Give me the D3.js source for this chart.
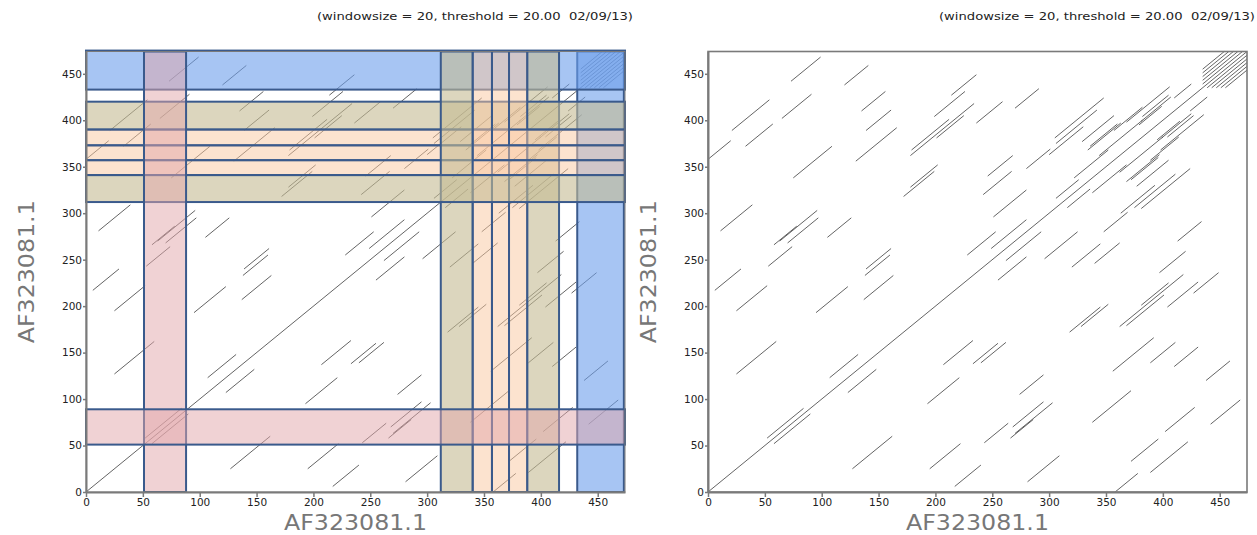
<!DOCTYPE html>
<html>
<head>
<meta charset="utf-8">
<script src="https://cdn.jsdelivr.net/npm/d3@7"></script>
<style>
body { margin: 0; background: #fff; }
text { font-family: "DejaVu Sans", sans-serif; }
</style>
</head>
<body>
<svg id="chart" width="1257" height="535"></svg>
<script>
var seqName = 'AF323081.1';
var seqLength = 474;
var headerText = '(windowsize = 20, threshold = 20.00  02/09/13)';
var tickValues = [0, 50, 100, 150, 200, 250, 300, 350, 400, 450];

// dotplot hits: [start on x, start on y, length]
var hits = [
    [0, 0, 474],
    [0, 358, 20], [358, 0, 20],
    [6, 217, 23], [217, 6, 23],
    [25, 195, 27], [195, 25, 27],
    [25, 127, 35], [127, 25, 35],
    [95, 193, 28], [193, 95, 28],
    [137, 207, 26], [207, 137, 26],
    [107, 123, 25], [123, 107, 25],
    [52, 58, 32], [58, 52, 32],
    [139, 240, 22], [240, 139, 22],
    [138, 233, 22], [233, 138, 22],
    [11, 281, 28], [281, 11, 28],
    [58, 266, 20], [266, 58, 20],
    [63, 270, 33], [270, 63, 33],
    [70, 268, 27], [268, 70, 27],
    [105, 274, 21], [274, 105, 21],
    [53, 243, 21], [243, 53, 21],
    [75, 338, 34], [338, 75, 34],
    [21, 389, 33], [389, 21, 33],
    [33, 372, 24], [372, 33, 24],
    [65, 402, 26], [402, 65, 26],
    [73, 442, 26], [442, 73, 26],
    [120, 438, 21], [438, 120, 21],
    [135, 410, 21], [410, 135, 21],
    [139, 389, 22], [389, 139, 22],
    [130, 356, 36], [356, 130, 36],
    [214, 427, 22], [427, 214, 22],
    [199, 404, 27], [404, 199, 27],
    [178, 362, 56], [362, 178, 56],
    [179, 368, 33], [368, 179, 33],
    [201, 381, 24], [381, 201, 24],
    [236, 397, 23], [397, 236, 23],
    [270, 413, 21], [413, 270, 21],
    [246, 340, 22], [340, 246, 22],
    [242, 320, 25], [320, 242, 25],
    [280, 348, 21], [348, 280, 21],
    [178, 328, 24], [328, 178, 24],
    [172, 318, 27], [318, 172, 27],
    [251, 296, 29], [296, 251, 29],
    [228, 255, 25], [255, 228, 25],
    [249, 262, 31], [262, 249, 31],
    [305, 381, 43], [381, 305, 43],
    [306, 375, 36], [375, 306, 36],
    [300, 363, 30], [363, 300, 30],
    [329, 377, 28], [377, 329, 28],
    [334, 368, 29], [368, 334, 29],
    [336, 372, 24], [372, 336, 24],
    [344, 362, 38], [362, 344, 38],
    [322, 338, 30], [338, 322, 30],
    [357, 389, 25], [389, 357, 25],
    [368, 398, 38], [398, 368, 38],
    [379, 395, 20], [395, 379, 20],
    [382, 404, 23], [404, 382, 23],
    [381, 399, 26], [399, 381, 26],
    [410, 424, 15], [424, 410, 15],
    [306, 316, 20], [316, 306, 20],
    [435, 439, 35], [439, 435, 35],
    [435, 443, 31], [443, 435, 31],
    [435, 447, 27], [447, 435, 27],
    [435, 451, 23], [451, 435, 23],
    [435, 455, 19], [455, 435, 19]
];

// repeat regions marked on the left plot
var regionFamily = ['F', 'E', 'D', 'C', 'B', 'A', 'G'];
var rowFrom = [433, 390, 373, 357, 341, 312, 51];
var rowTo   = [475, 420, 390, 373, 357, 341, 89];
var colFrom = [432, 388, 372, 357, 340, 312, 51];
var colTo   = [473, 416, 388, 372, 357, 340, 88];

var familyColor = { F: '#6d9eeb', E: '#c4ba92', A: '#c4ba92', D: '#fac8a0', C: '#fac8a0', B: '#fac8a0', G: '#e1a5aa' };
var familyOpacity = { F: 0.6, E: 0.6, A: 0.6, D: 0.5, C: 0.5, B: 0.5, G: 0.5 };

var svg = d3.select('#chart');

function drawPanel(left, withRegions) {
    var xs = d3.scaleLinear().domain([0, seqLength]).range([left, left + 539]);
    var ys = d3.scaleLinear().domain([0, seqLength]).range([492, 51.5]);
    var g = svg.append('g');

    g.append('text')
        .attr('x', left + 547)
        .attr('y', 20)
        .attr('text-anchor', 'end')
        .attr('font-size', 10.5)
        .attr('fill', '#222')
        .attr('textLength', 316)
        .attr('lengthAdjust', 'spacingAndGlyphs')
        .style('white-space', 'pre')
        .text(headerText);

    g.append('g').selectAll('line').data(hits)
        .enter()
        .append('line')
        .attr('x1', function (d) { return xs(d[0]); })
        .attr('y1', function (d) { return ys(d[1]); })
        .attr('x2', function (d) { return xs(Math.min(d[0] + d[2], seqLength)); })
        .attr('y2', function (d) { return ys(Math.min(d[1] + d[2], seqLength)); })
        .attr('stroke', '#222')
        .attr('stroke-opacity', 0.7)
        .attr('stroke-width', 1);

    if (withRegions) {
        var idx = d3.range(regionFamily.length);
        // blue family first, the others lie over it
        var order = idx.filter(function (i) { return regionFamily[i] == 'F'; })
            .concat(idx.filter(function (i) { return regionFamily[i] != 'F'; }));
        var rg = g.append('g');
        order.forEach(function (i) {
            var f = regionFamily[i];
            rg.append('rect')
                .attr('x', xs(colFrom[i]))
                .attr('y', ys(seqLength))
                .attr('width', xs(colTo[i]) - xs(colFrom[i]))
                .attr('height', ys(0) - ys(seqLength))
                .attr('fill', familyColor[f])
                .attr('fill-opacity', familyOpacity[f])
                .attr('stroke', '#3a5a8c')
                .attr('stroke-width', 2);
            rg.append('rect')
                .attr('x', xs(0))
                .attr('y', ys(rowTo[i]))
                .attr('width', xs(seqLength) - xs(0))
                .attr('height', ys(rowFrom[i]) - ys(rowTo[i]))
                .attr('fill', familyColor[f])
                .attr('fill-opacity', familyOpacity[f])
                .attr('stroke', '#3a5a8c')
                .attr('stroke-width', 2);
        });
    }

    // frame
    g.append('rect')
        .attr('x', xs(0))
        .attr('y', ys(seqLength))
        .attr('width', xs(seqLength) - xs(0))
        .attr('height', ys(0) - ys(seqLength))
        .attr('fill', 'none')
        .attr('stroke', '#7a7a7a')
        .attr('stroke-width', withRegions ? 1 : 1.6);

    var xAxis = g.append('g')
        .attr('transform', 'translate(0,' + ys(0) + ')')
        .call(d3.axisBottom(xs).tickValues(tickValues).tickSize(5).tickSizeOuter(0).tickPadding(2));
    var yAxis = g.append('g')
        .attr('transform', 'translate(' + xs(0) + ',0)')
        .call(d3.axisLeft(ys).tickValues(tickValues).tickSize(3).tickSizeOuter(0).tickPadding(1));

    [xAxis, yAxis].forEach(function (a) {
        a.select('.domain').attr('stroke', '#7a7a7a').attr('stroke-width', 2);
        a.selectAll('.tick line').attr('stroke', '#7a7a7a').attr('stroke-width', 1.5);
        a.selectAll('.tick text')
            .attr('font-family', '"DejaVu Sans", sans-serif')
            .attr('font-size', 10.5)
            .attr('fill', '#222');
    });

    g.append('text')
        .attr('x', (xs(0) + xs(seqLength)) / 2)
        .attr('y', 530)
        .attr('text-anchor', 'middle')
        .attr('font-family', '"Liberation Sans", sans-serif')
        .attr('font-size', 21)
        .attr('fill', '#777')
        .attr('textLength', 143)
        .attr('lengthAdjust', 'spacingAndGlyphs')
        .text(seqName);

    g.append('text')
        .attr('transform', 'translate(' + (left - 52) + ',' + ((ys(0) + ys(seqLength)) / 2) + ') rotate(-90)')
        .attr('text-anchor', 'middle')
        .attr('font-family', '"Liberation Sans", sans-serif')
        .attr('font-size', 21)
        .attr('fill', '#777')
        .attr('textLength', 143)
        .attr('lengthAdjust', 'spacingAndGlyphs')
        .text(seqName);
}

drawPanel(86, true);
drawPanel(708, false);
</script>
</body>
</html>
